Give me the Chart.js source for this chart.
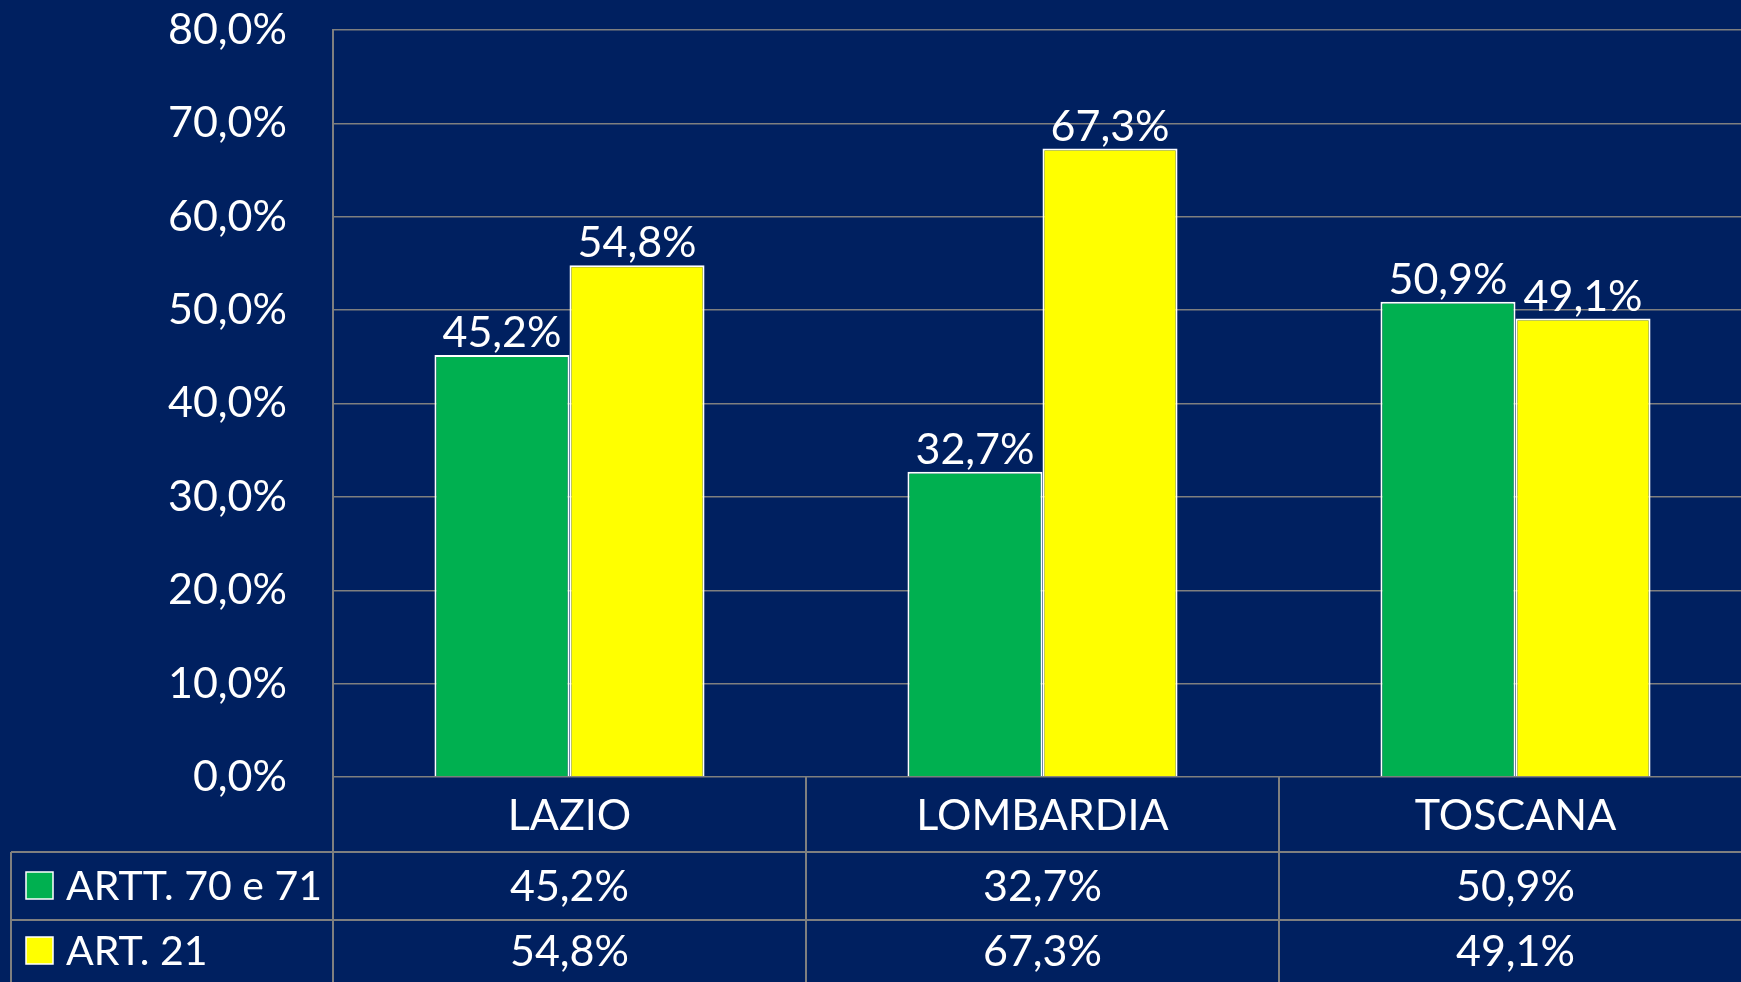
<!DOCTYPE html>
<html>
<head>
<meta charset="utf-8">
<script src="https://cdn.jsdelivr.net/npm/chart.js@4/dist/chart.umd.min.js"></script>
<style>
    html, body { margin: 0; padding: 0; background: #002060; overflow: hidden; }
    #wrap { width: 1741px; height: 982px; overflow: hidden; }
</style>
</head>
<body>
<div id="wrap"><canvas id="regionChart" width="1760" height="982"></canvas></div>
<script>
var regions = ['LAZIO', 'LOMBARDIA', 'TOSCANA'];
var seriesNames = ['ARTT. 70 e 71', 'ART. 21'];
var artt7071 = [45.2, 32.7, 50.9];
var art21 = [54.8, 67.3, 49.1];
var seriesColors = ['#00B050', '#FFFF00'];

var FONT = 'Lato, "Open Sans", sans-serif';
var GRID = '#7F7F7F';

function fmtPct(v) {
    return v.toFixed(1).replace('.', ',') + '%';
}

// value labels above the bars
var barLabels = {
    id: 'barLabels',
    afterDatasetsDraw: function (chart) {
        var ctx = chart.ctx;
        ctx.save();
        ctx.fillStyle = '#FFFFFF';
        ctx.font = '43px ' + FONT;
        ctx.textAlign = 'center';
        ctx.textBaseline = 'alphabetic';
        chart.data.datasets.forEach(function (ds, i) {
            chart.getDatasetMeta(i).data.forEach(function (bar, j) {
                ctx.fillText(fmtPct(ds.data[j]), bar.x, bar.y - 8);
            });
        });
        ctx.restore();
    }
};

// data table under the axis
var dataTable = {
    id: 'dataTable',
    afterDraw: function (chart) {
        var ctx = chart.ctx;
        var area = chart.chartArea;
        var xs = chart.scales.x;
        var n = regions.length;
        var colW = (area.right - area.left) / n;
        var top = area.bottom;
        var row0 = top + 75;
        var row1 = row0 + 68;
        var bottom = chart.height;
        var tableLeft = 11;

        ctx.save();
        ctx.strokeStyle = GRID;
        ctx.lineWidth = 2;
        ctx.beginPath();
        // horizontal rules
        ctx.moveTo(tableLeft, row0); ctx.lineTo(chart.width, row0);
        ctx.moveTo(tableLeft, row1); ctx.lineTo(chart.width, row1);
        // left border of the series rows
        ctx.moveTo(tableLeft, row0); ctx.lineTo(tableLeft, bottom);
        // column separators
        for (var c = 0; c <= n; c++) {
            var x = area.left + c * colW;
            ctx.moveTo(x, top); ctx.lineTo(x, bottom);
        }
        ctx.stroke();

        ctx.fillStyle = '#FFFFFF';
        ctx.textBaseline = 'middle';
        var rowMid = [(row0 + row1) / 2, (row1 + bottom) / 2];
        chart.data.datasets.forEach(function (ds, i) {
            var y = rowMid[i];
            // legend key
            ctx.fillStyle = ds.backgroundColor;
            ctx.fillRect(26, y - 14, 27, 27);
            ctx.strokeStyle = '#FFFFFF';
            ctx.lineWidth = 1.5;
            ctx.strokeRect(26, y - 14, 27, 27);
            ctx.fillStyle = '#FFFFFF';
            ctx.textAlign = 'left';
            ctx.font = '41px ' + FONT;
            ctx.fillText(ds.label, 66, y + 1);
            ctx.textAlign = 'center';
            ctx.font = '43px ' + FONT;
            ds.data.forEach(function (v, j) {
                ctx.fillText(fmtPct(v), xs.getPixelForValue(j), y + 1);
            });
        });
        ctx.restore();
    }
};

var ctx = document.getElementById('regionChart').getContext('2d');
new Chart(ctx, {
    type: 'bar',
    data: {
        labels: regions,
        datasets: [
            {
                label: seriesNames[0],
                data: artt7071,
                backgroundColor: seriesColors[0],
                borderColor: '#FFFFFF',
                borderWidth: 2,
                borderSkipped: 'bottom'
            },
            {
                label: seriesNames[1],
                data: art21,
                backgroundColor: seriesColors[1],
                borderColor: '#FFFFFF',
                borderWidth: 2,
                borderSkipped: 'bottom'
            }
        ]
    },
    options: {
        responsive: false,
        animation: false,
        layout: { padding: { top: 30, left: 0, right: 8, bottom: 0 } },
        datasets: {
            bar: { categoryPercentage: 0.571, barPercentage: 1.0 }
        },
        plugins: {
            legend: { display: false },
            tooltip: { enabled: false }
        },
        scales: {
            x: {
                grid: { display: false },
                border: { display: false },
                ticks: {
                    color: '#FFFFFF',
                    font: { family: FONT, size: 43 },
                    padding: 5,
                    maxRotation: 0
                },
                afterFit: function (scale) {
                    scale.height = 205;
                    scale.paddingLeft = 0;
                    scale.paddingRight = 0;
                }
            },
            y: {
                min: 0,
                max: 80,
                grid: { color: GRID, lineWidth: 1.5, drawTicks: false },
                border: { display: true, color: GRID, width: 2 },
                ticks: {
                    stepSize: 10,
                    color: '#FFFFFF',
                    font: { family: FONT, size: 43 },
                    padding: 46,
                    callback: function (v) { return fmtPct(v); }
                },
                afterFit: function (scale) {
                    scale.width = 333;
                    scale.paddingTop = 0;
                    scale.paddingBottom = 0;
                }
            }
        }
    },
    plugins: [barLabels, dataTable]
});
</script>
</body>
</html>
